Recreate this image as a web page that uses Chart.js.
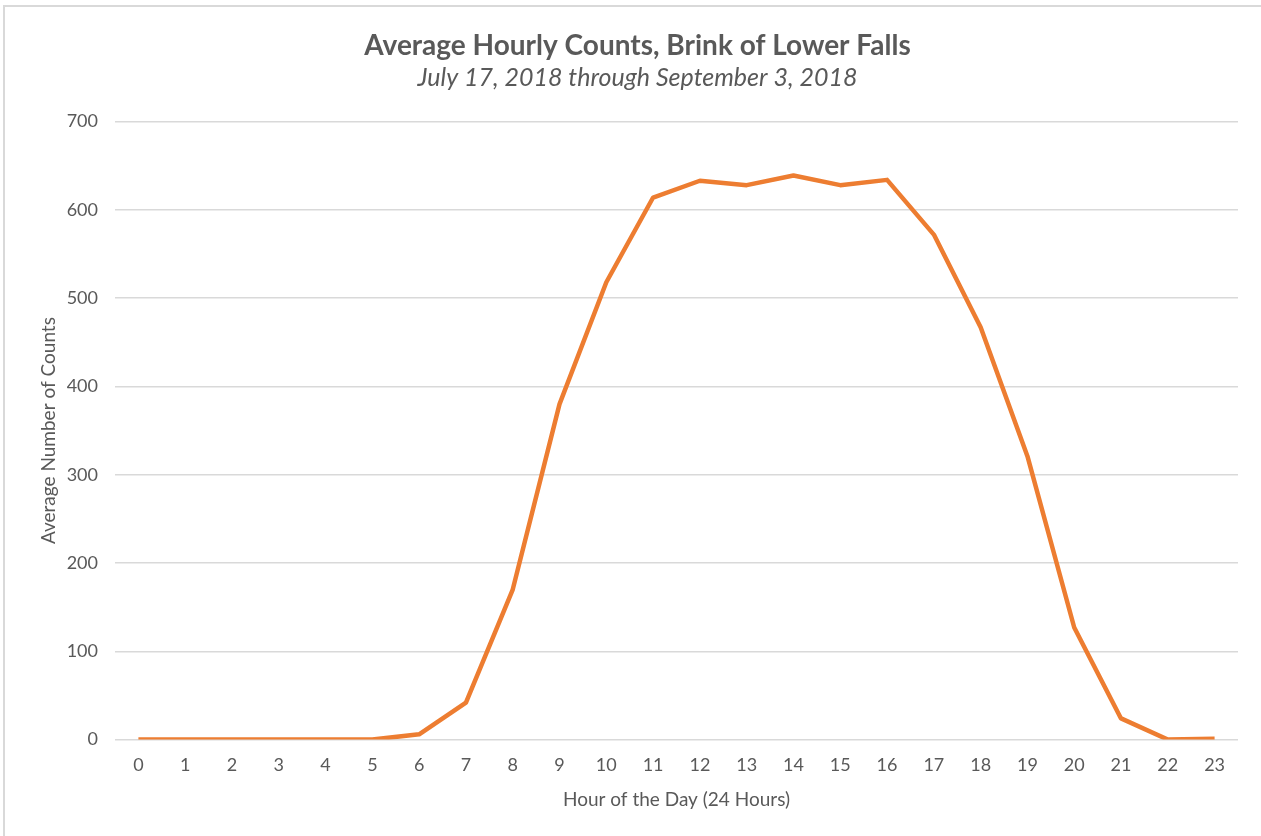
<!DOCTYPE html>
<html lang="en">
<head>
    <meta charset="UTF-8">
    <title>Average Hourly Counts</title>
    <script src="https://cdn.jsdelivr.net/npm/chart.js"></script>
    <style>
        html, body { margin: 0; padding: 0; background: #fff; }
        #frame {
            position: absolute; left: 3px; top: 5px; width: 1258px; height: 831px;
            border-left: 2px solid #d9d9d9; border-top: 2px solid #d9d9d9;
        }
        #box { position: absolute; left: 0; top: 0; width: 1261px; height: 836px; }
    </style>
</head>
<body>
    <div id="frame"></div>
    <div id="box"><canvas id="hourlyChart"></canvas></div>
    <script>
        // hours of the day
        const hours = ['0','1','2','3','4','5','6','7','8','9','10','11',
                       '12','13','14','15','16','17','18','19','20','21','22','23'];
        // average counts per hour
        const avgCounts = [0, 0, 0, 0, 0, 0, 6, 42, 170, 380, 518, 614,
                           633, 628, 639, 628, 634, 572, 467, 321, 127, 24, 0, 1];

        const grey = '#595959';
        const font = "Lato, 'Open Sans', sans-serif";

        const ctx = document.getElementById('hourlyChart').getContext('2d');
        new Chart(ctx, {
            type: 'line',
            data: {
                labels: hours,
                datasets: [{
                    label: 'Average Hourly Counts',
                    data: avgCounts,
                    borderColor: '#ED7D31',
                    backgroundColor: '#ED7D31',
                    borderWidth: 4.5,
                    pointRadius: 0,
                    tension: 0,
                    borderJoinStyle: 'round'
                }]
            },
            options: {
                responsive: true,
                maintainAspectRatio: false,
                animation: false,
                layout: { padding: { left: 37, right: 23, top: 29, bottom: 25 } },
                plugins: {
                    legend: { display: false },
                    tooltip: { enabled: false },
                    title: {
                        display: true,
                        text: 'Average Hourly Counts, Brink of Lower Falls',
                        color: grey,
                        font: { family: font, size: 28, weight: 'bold' },
                        padding: { top: 0, bottom: 0 }
                    },
                    subtitle: {
                        display: true,
                        text: 'July 17, 2018 through September 3, 2018',
                        color: grey,
                        font: { family: font, size: 25, style: 'italic' },
                        padding: { top: 0, bottom: 29 }
                    }
                },
                scales: {
                    x: {
                        offset: true,
                        grid: { display: false },
                        border: { display: false },
                        ticks: { color: grey, font: { family: font, size: 18 }, padding: 7, maxRotation: 0 },
                        title: {
                            display: true,
                            text: 'Hour of the Day (24 Hours)',
                            color: grey,
                            font: { family: font, size: 19 },
                            padding: { top: 5, bottom: 0 }
                        }
                    },
                    y: {
                        min: 0,
                        max: 700,
                        // keep the axis box the same width as the original
                        afterFit: scale => { scale.width = 78; },
                        ticks: { stepSize: 100, color: grey, font: { family: font, size: 18 }, padding: 17 },
                        grid: { color: '#d9d9d9', lineWidth: 1.5, drawTicks: false },
                        border: { display: false },
                        title: {
                            display: true,
                            text: 'Average Number of Counts',
                            color: grey,
                            font: { family: font, size: 19 },
                            padding: { top: 0, bottom: 10 }
                        }
                    }
                }
            }
        });
    </script>
</body>
</html>
